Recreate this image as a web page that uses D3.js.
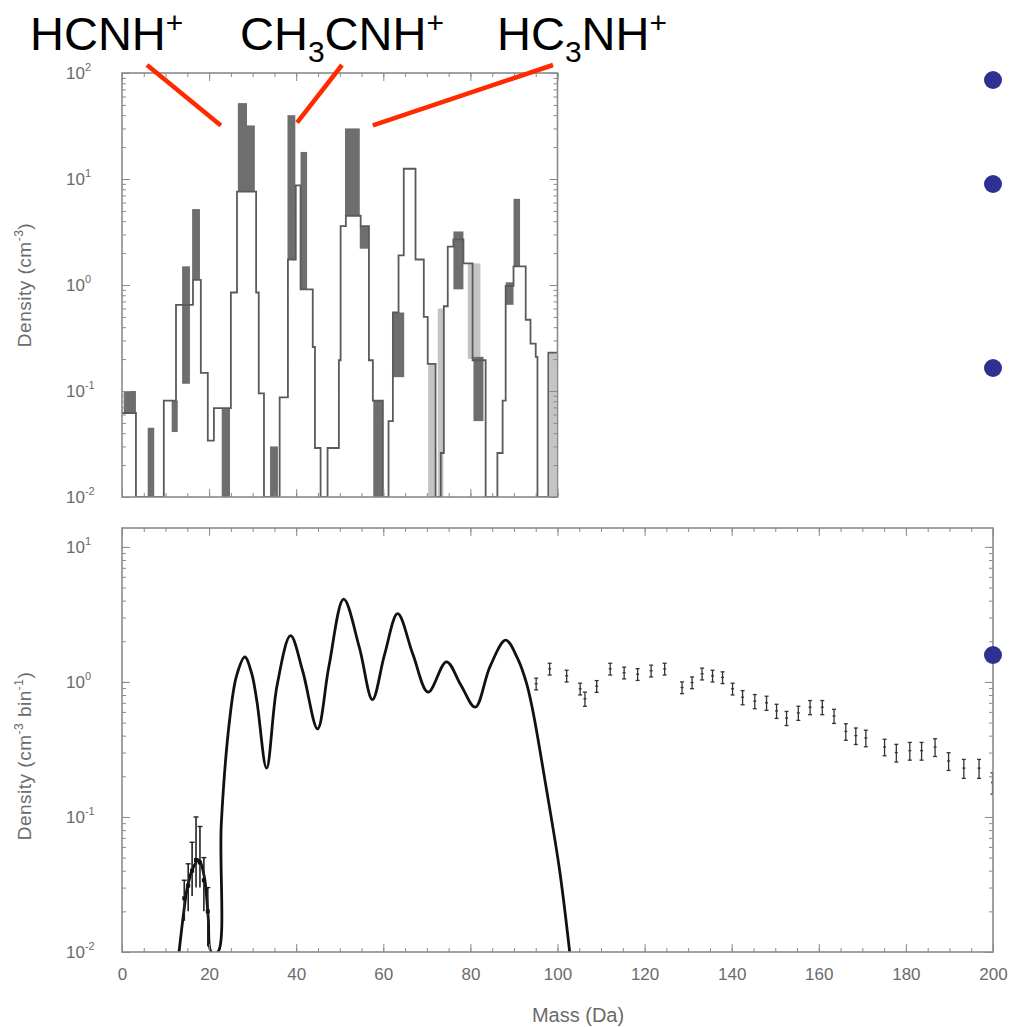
<!DOCTYPE html>
<html lang="en">
<head>
<meta charset="UTF-8">
<title>Ion mass spectrum</title>
<script src="https://cdn.jsdelivr.net/npm/d3@7"></script>
<style>
  body { margin: 0; background: #fff; }
  svg { display: block; font-family: "Liberation Sans", Arial, sans-serif; }
</style>
</head>
<body>
<div id="chart"></div>
<script>
// ---- top panel: step histogram, bin start mass (Da) and density (cm^-3), last bin ends at 100 Da
const stepMass = [0, 3.2, 9.6, 12.4, 16.3, 18.1, 19.7, 21.1, 25.0, 26.4, 30.8, 31.4, 32.6, 36.2, 38.1, 39.9,
  41.0, 43.8, 44.3, 45.6, 47.2, 49.8, 50.2, 51.4, 54.8, 56.7, 57.6, 59.9, 61.2, 62.2, 63.5, 64.7, 67.4,
  69.3, 70.2, 72.0, 73.2, 73.9, 74.8, 76.1, 78.4, 80.5, 83.5, 86.2, 87.4, 88.1, 89.9, 92.7, 93.8, 95.0,
  95.4, 97.9];
const stepDensity = [0.062, 0.01, 0.081, 0.65, 1.12, 0.148, 0.034, 0.069, 0.85, 7.6, 0.85, 0.095, 0.01, 0.087,
  1.74, 8.7, 0.91, 0.26, 0.029, 0.01, 0.029, 0.195, 3.6, 4.5, 3.6, 0.195, 0.081, 0.01, 0.052, 0.55, 1.9,
  12.5, 1.74, 0.50, 0.18, 0.01, 0.026, 0.63, 2.3, 2.7, 1.6, 0.195, 0.01, 0.026, 0.081, 0.98, 1.5, 0.47,
  0.28, 0.21, 0.01, 0.23];
const stepEnd = 100;

// grey bands: [mass from, mass to, low density, high density]
const darkBands = [
  [0.4, 3.2, 0.062, 0.10], [5.9, 7.4, 0.01, 0.045], [11.4, 12.8, 0.041, 0.081], [13.8, 15.6, 0.117, 1.5],
  [16.1, 17.9, 1.12, 5.2], [22.9, 24.8, 0.01, 0.069], [26.6, 28.7, 7.6, 52], [28.7, 30.5, 7.6, 32],
  [34.0, 35.8, 0.01, 0.03], [38.0, 39.8, 1.74, 40], [41.0, 42.5, 0.91, 18], [51.2, 54.6, 4.5, 30],
  [54.6, 56.5, 2.2, 3.6], [57.7, 59.9, 0.01, 0.081], [62.2, 64.8, 0.135, 0.55], [76.1, 78.4, 0.91, 3.2],
  [80.7, 83.0, 0.052, 0.21], [88.1, 89.9, 0.65, 1.06], [89.9, 91.4, 1.5, 6.5]
];
const lightBands = [
  [70.3, 71.9, 0.01, 0.18], [72.5, 73.8, 0.01, 0.6], [79.4, 82.3, 0.2, 1.6], [98.2, 99.8, 0.01, 0.23]
];

// ion labels and the peak each one points at (mass, density)
const ionNames = [
  [["HCNH", ""], ["+", "sup"]],
  [["CH", ""], ["3", "sub"], ["CNH", ""], ["+", "sup"]],
  [["HC", ""], ["3", "sub"], ["NH", ""], ["+", "sup"]]
];
const ionTargetMass = [22.7, 40.2, 57.6];
const ionTargetDensity = [32, 34, 32];

// ---- bottom panel: model curve (Da, cm^-3 bin^-1)
const curveMass = [13.1, 14.2, 15.0, 16.3, 17.7, 18.9, 19.8, 20.5, 22.0, 22.8, 24.7, 26.3, 28.2, 29.8, 31.0,
  33.2, 35.6, 38.7, 41.5, 44.9, 47.5, 50.9, 54.5, 57.5, 60.3, 63.3, 66.8, 70.3, 74.5, 77.8, 81.1, 84.5,
  88.1, 90.8, 92.8, 94.3, 97.4, 100.5, 102.8];
const curveDensity = [0.01, 0.02, 0.03, 0.042, 0.048, 0.036, 0.018, 0.01, 0.01, 0.089, 0.52, 1.11, 1.53, 1.15,
  0.71, 0.23, 0.94, 2.2, 1.2, 0.45, 1.3, 4.1, 1.8, 0.74, 1.6, 3.2, 1.6, 0.84, 1.41, 0.95, 0.65, 1.3,
  2.04, 1.5, 1.0, 0.62, 0.165, 0.04, 0.01];

// low mass measurements with error bars
const lowMass = [14.3, 15.2, 16.1, 17.0, 17.9, 18.8, 19.7];
const lowDensity = [0.025, 0.031, 0.04, 0.048, 0.046, 0.034, 0.02];
const lowErrLo = [0.017, 0.02, 0.026, 0.03, 0.03, 0.02, 0.011];
const lowErrHi = [0.034, 0.045, 0.065, 0.1, 0.085, 0.05, 0.03];

// high mass measurements (relative error)
const tailMass = [95.1, 98.2, 102.1, 105.2, 106.3, 109, 112.1, 115.3, 118.4, 121.5, 124.6, 128.6, 130.9, 133.2,
  135.6, 137.9, 140.2, 142.5, 145.3, 148, 150.3, 152.6, 155.3, 158, 160.8, 163.5, 166.2, 168.5, 170.8,
  175.1, 177.8, 180.9, 183.6, 186.7, 189.8, 193.3, 196.8, 199.9];
const tailDensity = [0.97, 1.25, 1.11, 0.89, 0.75, 0.93, 1.25, 1.17, 1.14, 1.21, 1.25, 0.91, 0.99, 1.15, 1.11,
  1.08, 0.89, 0.77, 0.72, 0.70, 0.61, 0.54, 0.59, 0.65, 0.65, 0.56, 0.43, 0.40, 0.385, 0.33, 0.30, 0.31,
  0.31, 0.33, 0.26, 0.23, 0.23, 0.18];
const tailErr = [0.1, 0.1, 0.1, 0.1, 0.12, 0.1, 0.1, 0.1, 0.1, 0.1, 0.1, 0.1, 0.1, 0.1, 0.1, 0.1, 0.1, 0.12,
  0.12, 0.12, 0.12, 0.12, 0.12, 0.12, 0.12, 0.12, 0.14, 0.14, 0.14, 0.14, 0.15, 0.15, 0.15, 0.15, 0.15,
  0.16, 0.16, 0.18];

const xTicks = d3.range(0, 201, 20);

// ------------------------------------------------------------------
const W = 1014, H = 1027;
const grey = "#6b6b6b", frame = "#8a8a8a";

const svg = d3.select("#chart").append("svg").attr("width", W).attr("height", H);

const xTop = d3.scaleLinear().domain([0, 100]).range([122, 557.5]);
const yTop = d3.scaleLog().domain([0.01, 100]).range([497, 73]).clamp(true);
const xBot = d3.scaleLinear().domain([0, 200]).range([122, 993]);
const yBot = d3.scaleLog().domain([0.01, Math.pow(10, 1.14)]).range([952, 528]).clamp(true);

function minorLog(scale) {
  const [a, b] = scale.domain();
  const out = [];
  for (let e = Math.floor(Math.log10(a)); e <= Math.ceil(Math.log10(b)); e++) {
    for (let k = 1; k <= 9; k++) {
      const v = k * Math.pow(10, e);
      if (v >= a && v <= b) out.push(v);
    }
  }
  return out;
}

// text with sub/superscript parts: [[string, "" | "sup" | "sub"], ...]
function richText(t, parts, big, small, up, down) {
  let shift = 0;
  parts.forEach(([s, kind]) => {
    const target = kind === "sup" ? -up : kind === "sub" ? down : 0;
    t.append("tspan").attr("dy", target - shift).attr("font-size", kind ? small : big).text(s);
    shift = target;
  });
  return t;
}

function frameAxes(x, y, decades) {
  const g = svg.append("g");
  const [x0, x1] = x.range(), [y0, y1] = y.range();
  const tickStyle = sel => {
    sel.select(".domain").remove();
    sel.selectAll("line").attr("stroke", frame).attr("stroke-width", 1);
  };
  const xMinor = d3.range(x.domain()[0], x.domain()[1] + 0.1, 5);
  const xMajor = d3.range(x.domain()[0], x.domain()[1] + 0.1, 20);
  [[xMinor, 4], [xMajor, 8]].forEach(([vals, len]) => {
    g.append("g").attr("transform", `translate(0,${y0})`)
      .call(d3.axisBottom(x).tickValues(vals).tickSize(-len).tickFormat("")).call(tickStyle);
    g.append("g").attr("transform", `translate(0,${y1})`)
      .call(d3.axisTop(x).tickValues(vals).tickSize(-len).tickFormat("")).call(tickStyle);
  });
  [[minorLog(y), 4], [decades, 8]].forEach(([vals, len]) => {
    g.append("g").attr("transform", `translate(${x0},0)`)
      .call(d3.axisLeft(y).tickValues(vals).tickSize(-len).tickFormat("")).call(tickStyle);
    g.append("g").attr("transform", `translate(${x1},0)`)
      .call(d3.axisRight(y).tickValues(vals).tickSize(-len).tickFormat("")).call(tickStyle);
  });
  g.append("rect").attr("x", x0).attr("y", y1).attr("width", x1 - x0).attr("height", y0 - y1)
    .attr("fill", "none").attr("stroke", frame).attr("stroke-width", 1.6);

  // 10^n labels
  decades.forEach(v => {
    const t = g.append("text").attr("x", 66).attr("y", y(v) + 6).attr("fill", grey);
    richText(t, [["10", ""], [String(Math.round(Math.log10(v))), "sup"]], 17, 11, 8, 0);
  });
}

function yTitle(cx, cy, parts) {
  const t = svg.append("text").attr("transform", `translate(${cx},${cy}) rotate(-90)`)
    .attr("text-anchor", "middle").attr("fill", grey).attr("letter-spacing", 0.5);
  richText(t, parts, 19, 12, 8, 0);
}

svg.append("clipPath").attr("id", "clipTop").append("rect")
  .attr("x", 122).attr("y", 73).attr("width", 435.5).attr("height", 424);
svg.append("clipPath").attr("id", "clipBot").append("rect")
  .attr("x", 122).attr("y", 528).attr("width", 871).attr("height", 424);

// ---------------- top panel ----------------
const topG = svg.append("g").attr("clip-path", "url(#clipTop)");

const bandRect = (sel, x, y) => sel
  .attr("x", d => x(d[0])).attr("width", d => x(d[1]) - x(d[0]))
  .attr("y", d => y(d[3])).attr("height", d => y(d[2]) - y(d[3]));

topG.selectAll("rect.light").data(lightBands).join("rect").attr("class", "light")
  .call(bandRect, xTop, yTop).attr("fill", "#c4c4c4");
topG.selectAll("rect.dark").data(darkBands).join("rect").attr("class", "dark")
  .call(bandRect, xTop, yTop).attr("fill", "#6e6e6e");

const steps = stepMass.map((m, i) => [m, stepDensity[i]]);
steps.push([stepEnd, stepDensity[stepDensity.length - 1]]);
const stepLine = d3.line().x(d => xTop(d[0])).y(d => yTop(d[1])).curve(d3.curveStepAfter);
topG.append("path").attr("d", stepLine(steps))
  .attr("fill", "none").attr("stroke", "#5a5a5a").attr("stroke-width", 1.8);

frameAxes(xTop, yTop, [0.01, 0.1, 1, 10, 100]);
yTitle(31, 285, [["Density (cm", ""], ["-3", "sup"], [")", ""]]);

// ---------------- bottom panel ----------------
const botG = svg.append("g").attr("clip-path", "url(#clipBot)");

const curvePts = curveMass.map((m, i) => [m, curveDensity[i]]);
const curveLine = d3.line().x(d => xBot(d[0])).y(d => yBot(d[1])).curve(d3.curveCatmullRom.alpha(0.5));
botG.append("path").attr("d", curveLine(curvePts))
  .attr("fill", "none").attr("stroke", "#111").attr("stroke-width", 2.8).attr("stroke-linejoin", "round");

// low mass error bars
const lowPts = lowMass.map((m, i) => ({ m, v: lowDensity[i], lo: lowErrLo[i], hi: lowErrHi[i] }));
const lowG = botG.selectAll("g.low").data(lowPts).join("g").attr("class", "low");
lowG.append("line").attr("x1", d => xBot(d.m)).attr("x2", d => xBot(d.m))
  .attr("y1", d => yBot(d.lo)).attr("y2", d => yBot(d.hi)).attr("stroke", "#222").attr("stroke-width", 1.6);
lowG.append("line").attr("x1", d => xBot(d.m) - 2.5).attr("x2", d => xBot(d.m) + 2.5)
  .attr("y1", d => yBot(d.hi)).attr("y2", d => yBot(d.hi)).attr("stroke", "#222").attr("stroke-width", 1.4);
lowG.append("rect").attr("x", d => xBot(d.m) - 2).attr("y", d => yBot(d.v) - 2)
  .attr("width", 4).attr("height", 4).attr("fill", "#111");

// high mass markers
const tailPts = tailMass.map((m, i) => ({ m, v: tailDensity[i], e: tailErr[i] }));
const tailG = botG.selectAll("g.tail").data(tailPts).join("g").attr("class", "tail")
  .attr("stroke", "#333").attr("stroke-width", 1.3);
tailG.append("line").attr("x1", d => xBot(d.m)).attr("x2", d => xBot(d.m))
  .attr("y1", d => yBot(d.v * (1 - d.e))).attr("y2", d => yBot(d.v * (1 + d.e)));
tailG.append("line").attr("x1", d => xBot(d.m) - 2).attr("x2", d => xBot(d.m) + 2)
  .attr("y1", d => yBot(d.v * (1 + d.e))).attr("y2", d => yBot(d.v * (1 + d.e)));
tailG.append("line").attr("x1", d => xBot(d.m) - 2).attr("x2", d => xBot(d.m) + 2)
  .attr("y1", d => yBot(d.v * (1 - d.e))).attr("y2", d => yBot(d.v * (1 - d.e)));
tailG.append("line").attr("x1", d => xBot(d.m) - 1.5).attr("x2", d => xBot(d.m) + 1.5)
  .attr("y1", d => yBot(d.v)).attr("y2", d => yBot(d.v));

frameAxes(xBot, yBot, [0.01, 0.1, 1, 10]);

svg.append("g").attr("transform", "translate(0,952)")
  .call(d3.axisBottom(xBot).tickValues(xTicks).tickSize(0).tickPadding(16))
  .call(g => g.select(".domain").remove())
  .call(g => g.selectAll("text").attr("fill", grey).attr("font-size", 17)
    .attr("font-family", "Liberation Sans, Arial, sans-serif"));

svg.append("text").attr("x", 578).attr("y", 1022).attr("text-anchor", "middle")
  .attr("fill", grey).attr("font-size", 20).text("Mass (Da)");

yTitle(31, 756, [["Density (cm", ""], ["-3", "sup"], [" bin", ""], ["-1", "sup"], [")", ""]]);

// ---------------- ion annotations ----------------
const labelX = [30, 240, 497];
const lineStart = [[147, 65], [342, 65], [553, 65]];
ionNames.forEach((parts, i) => {
  const t = svg.append("text").attr("x", labelX[i]).attr("y", 50).attr("fill", "#000");
  richText(t, parts, 47, 30, 17, 12);
  svg.append("line")
    .attr("x1", lineStart[i][0]).attr("y1", lineStart[i][1])
    .attr("x2", xTop(ionTargetMass[i])).attr("y2", yTop(ionTargetDensity[i]))
    .attr("stroke", "#ff2a00").attr("stroke-width", 4.5);
});

// slide bullets on the right
[80, 184, 368, 655].forEach(cy => {
  svg.append("circle").attr("cx", 993).attr("cy", cy).attr("r", 9).attr("fill", "#2f3192");
});
</script>
</body>
</html>
